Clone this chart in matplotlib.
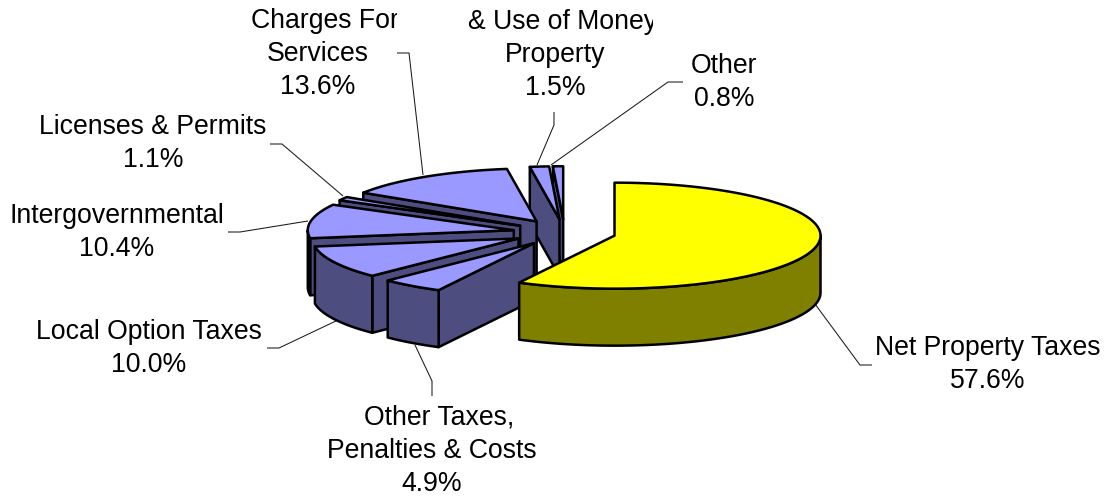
import numpy as np
import matplotlib
matplotlib.use("Agg")
import matplotlib.pyplot as plt
from matplotlib.patches import Polygon
from matplotlib.transforms import Bbox

# ---- data ----
categories = ["Net Property Taxes", "Other Taxes,\nPenalties & Costs", "Local Option Taxes",
              "Intergovernmental", "Licenses & Permits", "Charges For\nServices",
              "& Use of Money\nProperty", "Other"]
percent = [57.6, 4.9, 10.0, 10.4, 1.1, 13.6, 1.5, 0.8]
explode = [0.25] * 8

# ---- style / layout ----
CX, CY = 564.5, 232.5    # pie centre (px)
A, B = 206, 53           # ellipse radii (px)
DEPTH = 57               # extrusion (px)
top_colors = ["#FFFF00"] + ["#9999FF"] * 7
wall_colors = ["#808000"] + ["#4D4D80"] * 7
EDGE_LW = 1.8
LINE_H = 33
FONT = "Liberation Sans"
FS = 19.2

label_xy = [(988, 347), (432, 417), (149, 331), (117, 215), (153, 126), (318, 20), (555, 21), (724, 65)]
first_line_dx = [0, 7, 0, 0, 0, 7, 8, 0]
clip_right = [None, None, None, None, None, 397, 653, None]
leaders = [
    [(815, 304), (860, 365), (872, 365)],
    [(415, 345), (432, 381), (432, 396)],
    [(338, 320), (279, 348), (267, 348)],
    [(308, 221), (240, 232), (228, 232)],
    [(343, 196), (282, 144), (270, 144)],
    [(423, 175), (409, 53), (397, 53)],
    [(537, 165), (554, 125), (554, 112)],
    [(551, 165), (668, 82), (683, 82)],
]

fig = plt.figure(figsize=(11.09, 4.97), dpi=100, facecolor="white")
ax = fig.add_axes([0, 0, 1, 1])
ax.set_xlim(0, 1109)
ax.set_ylim(497, 0)
ax.axis("off")


def pt(cx, cy, deg, dy=0.0):
    t = np.radians(deg)
    return np.column_stack([cx + A * np.sin(t), cy - B * np.cos(t) + dy])


def poly(pts, color, z):
    ax.add_patch(Polygon(pts, closed=True, facecolor=color, edgecolor="black",
                         linewidth=EDGE_LW, joinstyle="round", zorder=z))


vals = np.array(percent, dtype=float)
edges = np.concatenate([[0], np.cumsum(vals)]) / vals.sum() * 360

z = 2.0
for i in reversed(range(len(vals))):
    t1, t2 = edges[i], edges[i + 1]
    m = np.radians((t1 + t2) / 2)
    cx = CX + explode[i] * A * np.sin(m)
    cy = CY - explode[i] * B * np.cos(m)
    apex = np.array([[cx, cy]])
    wall = wall_colors[i]

    # radial faces
    for t, visible in ((t1, 180 <= t1 < 360), (t2, 0 < t2 < 180)):
        if visible:
            p = pt(cx, cy, np.array([t]))
            face = np.vstack([apex, p, p + [0, DEPTH], apex + [0, DEPTH]])
            poly(face, wall, z)
            z += 0.01
    # outer wall
    a1, a2 = max(t1, 90), min(t2, 270)
    if a2 > a1:
        ang = np.linspace(a1, a2, 80)
        arc = pt(cx, cy, ang)
        poly(np.vstack([arc, (arc + [0, DEPTH])[::-1]]), wall, z)
        z += 0.01
    # top
    ang = np.linspace(t1, t2, 160)
    poly(np.vstack([apex, pt(cx, cy, ang)]), top_colors[i], z)
    z += 0.01

for seg in leaders:
    xs, ys = zip(*seg)
    ax.plot(xs, ys, color="#1a1a1a", lw=0.75, zorder=1, solid_capstyle="butt")

for i, name in enumerate(categories):
    lines = name.split("\n") + [f"{percent[i]:.1f}%"]
    x0, y0 = label_xy[i]
    for j, line in enumerate(lines):
        dx = first_line_dx[i] if j == 0 else 0
        txt = ax.text(x0 + dx, y0 + 1 + j * LINE_H, line, ha="center", va="center",
                      family=FONT, fontsize=FS, color="black", zorder=20)
        if j == 0 and clip_right[i] is not None:
            txt.set_clip_on(True)
            txt.set_clip_box(Bbox.from_extents(0, 0, clip_right[i], 497))

fig.savefig("out.png", dpi=100, facecolor="white")
